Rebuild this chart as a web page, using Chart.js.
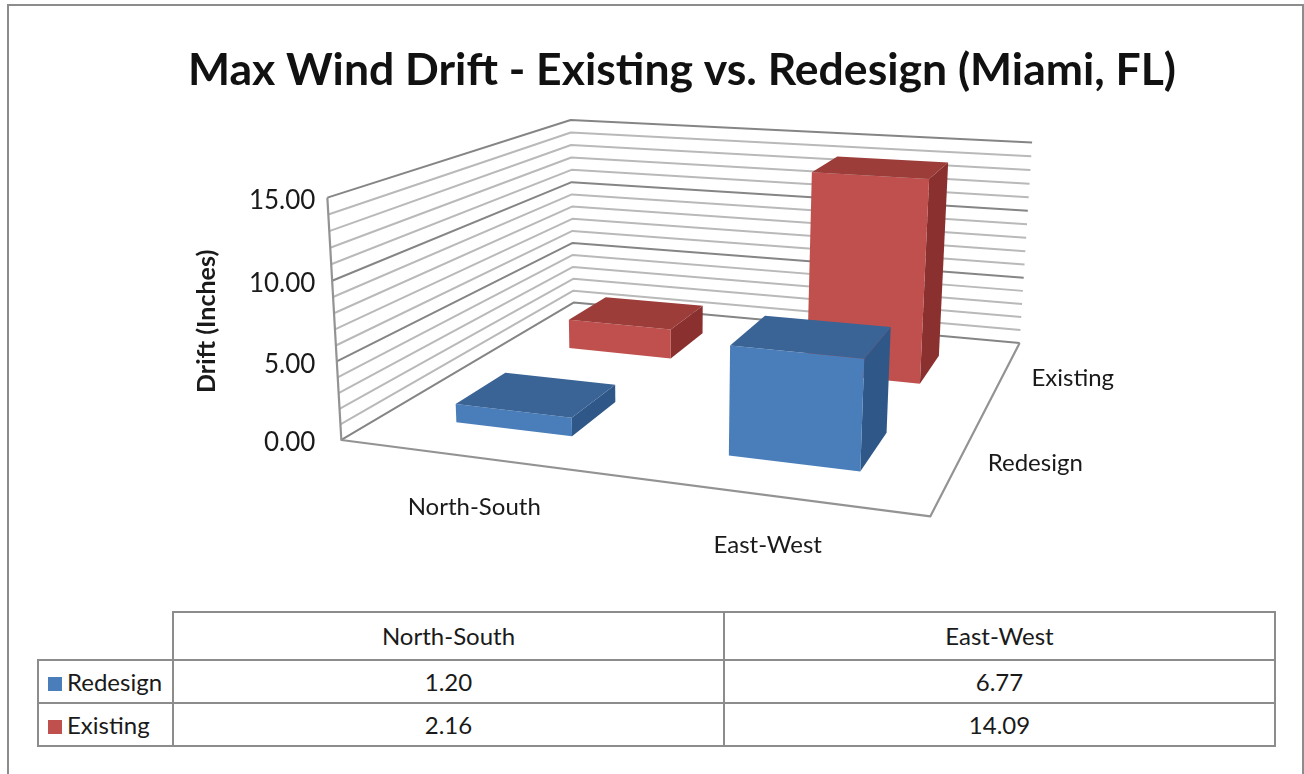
<!DOCTYPE html>
<html>
<head>
<meta charset="utf-8">
<script src="https://cdn.jsdelivr.net/npm/chart.js@4.4.0/dist/chart.umd.min.js"></script>
<style>
html, body { margin: 0; padding: 0; background: #fff; overflow: hidden; }
body { font-family: Lato, "Open Sans", sans-serif; }
#frame { position: absolute; left: 7px; top: 4px; width: 1297px; height: 820px; border: 2px solid #8c8c8c; box-sizing: border-box; }
#wrap { position: absolute; left: 0; top: 0; width: 1304px; height: 600px; }
#tbl { position: absolute; left: 37px; top: 611px; border-collapse: collapse; table-layout: fixed; font-size: 24px; color: #1a1a1a; }
#tbl td { border: 2px solid #8c8c8c; text-align: center; padding: 0; line-height: 1; }
#tbl tr.head td { height: 46px; }
#tbl tr.row td { height: 41px; }
#tbl td.blank { border-top: none; border-left: none; }
#tbl td.name { text-align: left; padding-left: 9px; }
.key { display: inline-block; width: 14px; height: 14px; margin-right: 5px; vertical-align: 0px; }
</style>
</head>
<body>
<div id="frame"></div>
<div id="wrap"><canvas id="chart"></canvas></div>
<table id="tbl"></table>
<script>
const categories = ['North-South', 'East-West'];
const seriesNames = ['Redesign', 'Existing'];
const redesign = [1.20, 6.77];
const existing = [2.16, 14.09];
const yTickLabels = ['0.00', '5.00', '10.00', '15.00'];

const faceColors = [
    { front: '#4a7ebb', top: '#3a6396', side: '#2f5889' },
    { front: '#c0504d', top: '#9c3d3a', side: '#8a312f' }
];
const font = 'Lato, "Open Sans", sans-serif';

// where the corners of the 3d box land on screen: [u, w, v, x, y]
// u = along categories, w = depth (series), v = height
const calib = [
    [0, 0, 0, 342, 440], [0, 0, 1, 327, 197],
    [0, 1, 0, 573, 303], [0, 1, 1, 571, 120],
    [1, 1, 0, 1020, 342], [1, 1, 1, 1032, 143],
    [1, 0, 0, 930, 517]
];

function fitCamera(pts) {
    const A = [], b = [];
    pts.forEach(([X, Y, Z, x, y]) => {
        A.push([X, Y, Z, 1, 0, 0, 0, 0, -x * X, -x * Y, -x * Z]); b.push(x);
        A.push([0, 0, 0, 0, X, Y, Z, 1, -y * X, -y * Y, -y * Z]); b.push(y);
    });
    const n = 11;
    const M = [];
    for (let i = 0; i < n; i++) {
        M.push(new Array(n + 1).fill(0));
        for (let j = 0; j < n; j++)
            for (let k = 0; k < A.length; k++) M[i][j] += A[k][i] * A[k][j];
        for (let k = 0; k < A.length; k++) M[i][n] += A[k][i] * b[k];
    }
    for (let c = 0; c < n; c++) {
        let p = c;
        for (let r = c + 1; r < n; r++) if (Math.abs(M[r][c]) > Math.abs(M[p][c])) p = r;
        [M[c], M[p]] = [M[p], M[c]];
        for (let r = 0; r < n; r++) {
            if (r === c) continue;
            const f = M[r][c] / M[c][c];
            for (let k = c; k <= n; k++) M[r][k] -= f * M[c][k];
        }
    }
    return M.map((row, i) => row[n] / row[i]);
}

const P = fitCamera(calib);
function proj(u, w, v) {
    const d = P[8] * u + P[9] * w + P[10] * v + 1;
    return [(P[0] * u + P[1] * w + P[2] * v + P[3]) / d,
            (P[4] * u + P[5] * w + P[6] * v + P[7]) / d];
}

function poly(ctx, pts, fill) {
    ctx.beginPath();
    pts.forEach((p, i) => i ? ctx.lineTo(p[0], p[1]) : ctx.moveTo(p[0], p[1]));
    ctx.closePath();
    ctx.fillStyle = fill;
    ctx.fill();
}

function path(ctx, pts, color, width) {
    ctx.beginPath();
    pts.forEach((p, i) => i ? ctx.lineTo(p[0], p[1]) : ctx.moveTo(p[0], p[1]));
    ctx.strokeStyle = color;
    ctx.lineWidth = width;
    ctx.stroke();
}

const bars3d = {
    id: 'bars3d',
    beforeDatasetsDraw(chart) {
        const ctx = chart.ctx;
        const xs = chart.scales.x, ys = chart.scales.y;
        const zero = ys.getPixelForValue(0);
        const full = zero - ys.getPixelForValue(ys.max);
        const toV = val => (zero - ys.getPixelForValue(val)) / full;
        ctx.save();
        ctx.lineJoin = 'round';

        // walls: gridlines on left and back wall
        const ticks = ys.ticks.map(t => t.value);
        ticks.forEach(t => {
            const v = toV(t);
            const major = t % 5 === 0;
            path(ctx, [proj(0, 0, v), proj(0, 1, v), proj(1, 1, v)], major ? '#858585' : '#b9b9b9', 2);
        });
        path(ctx, [proj(0, 0, 1), proj(0, 0, 0), proj(1, 0, 0), proj(1, 1, 0)], '#939393', 2.2);

        // value labels along the front edge of the left wall
        ctx.fillStyle = '#1a1a1a';
        ctx.font = '26px ' + font;
        ctx.textAlign = 'right';
        ctx.textBaseline = 'middle';
        const base = proj(0, 0, 0);
        yTickLabels.forEach(lbl => {
            const p = proj(0, 0, toV(parseFloat(lbl)));
            ctx.fillText(lbl, base[0] - 26, p[1] + 3);
        });

        // category labels
        ctx.font = '24px ' + font;
        ctx.textAlign = 'center';
        categories.forEach((c, i) => {
            const u = (xs.getPixelForValue(i) - xs.left) / xs.width;
            const p = proj(u, 0, 0);
            ctx.fillText(c, p[0], p[1] + 50);
        });

        // series labels along the depth axis
        ctx.textAlign = 'left';
        seriesNames.forEach((s, di) => {
            const p = proj(1, (di + 0.5) / 2, 0);
            ctx.fillText(s, p[0] + 29, p[1] + 2);
        });

        // axis title
        const mid = proj(0, 0, 0.5);
        ctx.save();
        ctx.translate(207, mid[1]);
        ctx.rotate(-Math.PI / 2);
        ctx.textAlign = 'center';
        ctx.font = 'bold 25px ' + font;
        ctx.fillText('Drift (Inches)', 0, 0);
        ctx.restore();

        // boxes, back row first
        for (let di = chart.data.datasets.length - 1; di >= 0; di--) {
            const meta = chart.getDatasetMeta(di);
            const col = faceColors[di];
            const wc = (di + 0.5) / 2;
            const w0 = wc - 0.1, w1 = wc + 0.1;
            meta.data.forEach(el => {
                const u0 = (el.x - el.width / 2 - xs.left) / xs.width;
                const u1 = (el.x + el.width / 2 - xs.left) / xs.width;
                const v = (el.base - el.y) / full;
                poly(ctx, [proj(u1, w0, 0), proj(u1, w1, 0), proj(u1, w1, v), proj(u1, w0, v)], col.side);
                poly(ctx, [proj(u0, w0, 0), proj(u1, w0, 0), proj(u1, w0, v), proj(u0, w0, v)], col.front);
                poly(ctx, [proj(u0, w0, v), proj(u1, w0, v), proj(u1, w1, v), proj(u0, w1, v)], col.top);
            });
        }
        ctx.restore();
        return false;
    }
};

new Chart(document.getElementById('chart'), {
    type: 'bar',
    data: {
        labels: categories,
        datasets: [
            { label: seriesNames[0], data: redesign, backgroundColor: faceColors[0].front },
            { label: seriesNames[1], data: existing, backgroundColor: faceColors[1].front }
        ]
    },
    options: {
        responsive: true,
        maintainAspectRatio: false,
        animation: false,
        grouped: false,
        categoryPercentage: 1,
        barPercentage: 0.44,
        layout: { padding: { left: 60 } },
        plugins: {
            legend: { display: false },
            tooltip: { enabled: false },
            title: {
                display: true,
                text: 'Max Wind Drift - Existing vs. Redesign (Miami, FL)',
                color: '#111',
                font: { family: font, size: 44.5, weight: 'bold' },
                padding: { top: 44, bottom: 10 }
            }
        },
        scales: {
            x: { display: false, offset: true },
            y: { display: false, min: 0, max: 15, ticks: { stepSize: 1 } }
        }
    },
    plugins: [bars3d]
});

// data table under the chart
const tbl = document.getElementById('tbl');
const rows = [redesign, existing];
let html = '<colgroup><col style="width:135px"><col style="width:551px"><col style="width:551px"></colgroup>';
html += '<tr class="head"><td class="blank"></td>' + categories.map(c => `<td>${c}</td>`).join('') + '</tr>';
rows.forEach((vals, di) => {
    html += `<tr class="row"><td class="name"><span class="key" style="background:${faceColors[di].front}"></span>${seriesNames[di]}</td>` +
        vals.map(v => `<td>${v.toFixed(2)}</td>`).join('') + '</tr>';
});
tbl.innerHTML = html;
</script>
</body>
</html>
